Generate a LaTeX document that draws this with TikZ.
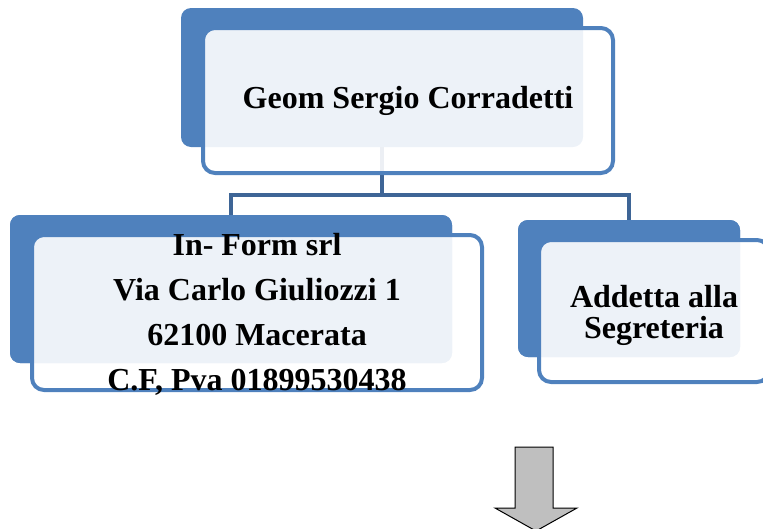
\documentclass[tikz,border=0pt]{standalone}
\usepackage{fontspec}
\setmainfont{Liberation Serif}
\begin{document}
\begin{tikzpicture}[x=1pt,y=-1pt]
\definecolor{accent}{HTML}{4F81BD}
\definecolor{connc}{HTML}{3E6596}
\tikzset{
  backbox/.style={fill=accent, draw=none, rounded corners=10pt, inner sep=0pt, outer sep=0pt},
  frontbox/.style={fill=white, fill opacity=0.9, draw=accent, draw opacity=1, line width=4pt, rounded corners=12pt, inner sep=0pt, outer sep=0pt, text opacity=1, align=center, font=\bfseries},
  boxtext/.style={align=center, inner sep=0pt},
  conn/.style={draw=connc, line width=4.5pt},
  blockarrow/.style={fill=black!25, draw=black, line width=1pt, line join=miter}
}
\useasboundingbox (0,0) rectangle (763,528);
% back boxes
\node[backbox, minimum width=402pt, minimum height=139pt] (tb) at (382,77.5) {};
\node[backbox, minimum width=442pt, minimum height=148pt] (lb) at (231,289) {};
\node[backbox, minimum width=222pt, minimum height=137pt] (rb) at (629,288.5) {};
% connectors
\coordinate (j) at (382,195);
\draw[conn] (tb.south) -- (j) -| (lb.north);
\draw[conn] (j) -| (rb.north);
% redraw back boxes over connector ends
\node[backbox, minimum width=442pt, minimum height=148pt] at (lb) {};
\node[backbox, minimum width=222pt, minimum height=137pt] at (rb) {};
% front boxes
\node[frontbox, minimum width=410pt, minimum height=145pt, font=\bfseries\fontsize{32}{38}\selectfont] (tf) at (408,100.5) {Geom Sergio Corradetti};
\node[frontbox, minimum width=450pt, minimum height=155pt] (lf) at (257,312.5) {};
\node[boxtext, font=\bfseries\fontsize{32}{45}\selectfont] (lt) at (257,314.5) {In- Form srl\\Via Carlo Giuliozzi 1\\62100 Macerata\\C.F, Pva 01899530438};
\node[frontbox, minimum width=230pt, minimum height=142pt] (rf) at (654,311) {};
\node[boxtext, font=\bfseries\fontsize{32}{31}\selectfont] (rt) at (654,315) {Addetta alla\\Segreteria};
% block arrow
\draw[blockarrow] (515,447) -- (553,447) -- (553,508) -- (577,508) -- (536,531) -- (495,508) -- (515,508) -- cycle;
\end{tikzpicture}
\end{document}
